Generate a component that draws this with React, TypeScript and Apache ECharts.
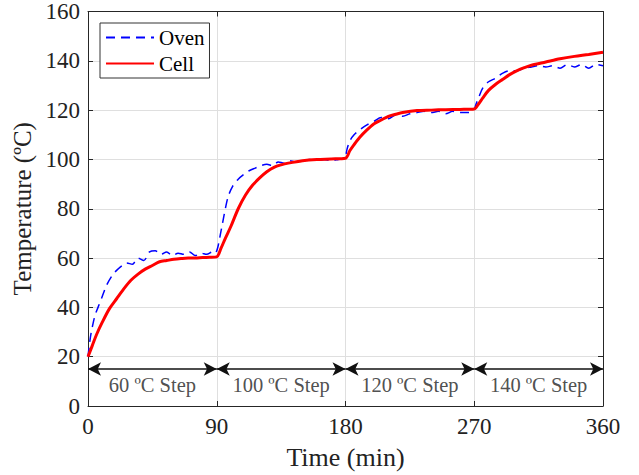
import React, { useEffect, useRef } from "react";
import * as echarts from "echarts";

const ovenTime = [0,1,2,3,5,7,10,13,17,20,24,27,31,35,39,43,47,51,55,59,63,67,71,75,79,83,87,89,90,91,92,94,96,98,101,105,109,113,117,121,125,129,133,137,141,145,150,155,160,165,170,175,179,180,181,183,186,190,195,200,205,210,215,220,225,230,235,240,245,250,255,260,265,269,270,271,273,276,280,285,290,295,300,305,310,315,320,325,330,335,340,345,350,355,360];
const ovenTemp = [20,25,29,32,37,40,44.5,49,53,55,57,58,57.5,60,59,62.5,63,61.5,62.5,61,62,61.5,62.5,61,62,61.5,62.5,62,63,65,68,74,80,85,89,92,94,95.5,96.5,97.5,98,97.5,99,98.5,99.5,99,99.5,100,99.5,100,99.5,100,100.5,101,104,107.5,110,112,114,115.5,117,116.5,118,117.5,118.5,119,119.5,119,119.5,118.5,119.5,119,119,119.5,120,122,125,129,131.5,133,135,136,136,137,137.5,138,137.5,138,137,138.5,137.5,138.5,137,138.5,138];

const cellTime = [0,3,6,10,15,20,25,30,35,40,45,50,55,60,65,70,75,80,85,90,93,96,100,105,110,115,120,125,130,135,140,150,160,170,180,183,186,190,195,200,205,210,215,220,230,240,250,260,270,273,276,280,285,290,295,300,305,310,320,330,340,350,360];
const cellTemp = [20,24.5,29,34,39.5,43.5,47.5,51,53.5,55.5,57,58.5,59,59.5,59.8,60,60,60.2,60.3,60.5,64,68,73,80,85.5,89.5,92.5,95,96.8,97.8,98.5,99.5,100,100.2,100.5,103.5,106,109,112,114.5,116,117.5,118.3,119,119.8,120,120.2,120.3,120.5,122.5,125,128,130.5,132.5,134.5,136,137.2,138.2,139.5,140.8,141.8,142.6,143.5];

const stepStarts = [0, 90, 180, 270];
const stepEnds = [90, 180, 270, 360];
const stepLabels = ["60 ºC Step", "100 ºC Step", "120 ºC Step", "140 ºC Step"];
const arrowLevel = 15;
const stepLabelLevel = 8.5;

const xTicks = [0, 90, 180, 270, 360];
const yMin = 0, yMax = 160, yStep = 20;

const FONT = "Liberation Serif";
const TXT = "#222";

export default function App() {
  const ref = useRef<HTMLDivElement>(null);
  useEffect(() => {
    if (!ref.current) return;
    const chart = echarts.init(ref.current, undefined, { renderer: "svg" });
    const axisLineStyle = { color: "#262626", width: 1 };
    const xCommon = {
      type: "value" as const,
      min: xTicks[0],
      max: xTicks[xTicks.length - 1],
      interval: 90,
      axisLine: { show: true, onZero: false, lineStyle: axisLineStyle },
      axisTick: { show: true, inside: true, length: 5, lineStyle: axisLineStyle },
    };
    const yCommon = {
      type: "value" as const,
      min: yMin,
      max: yMax,
      interval: yStep,
      axisLine: { show: true, onZero: false, lineStyle: axisLineStyle },
      axisTick: { show: true, inside: true, length: 5, lineStyle: axisLineStyle },
    };
    chart.setOption({
      animation: false,
      textStyle: { fontFamily: FONT },
      grid: { left: 88, right: 36, top: 11, bottom: 69, containLabel: false },
      legend: {
        data: ["Oven", "Cell"],
        orient: "vertical",
        left: 100,
        top: 23,
        padding: [4, 5, 4, 5],
        itemGap: 5,
        itemWidth: 48,
        itemHeight: 20,
        itemStyle: { opacity: 0 },
        borderColor: "#333",
        borderWidth: 1,
        backgroundColor: "#fff",
        textStyle: { fontFamily: FONT, fontSize: 21, color: "#000" },
      },
      xAxis: [
        {
          ...xCommon,
          position: "bottom",
          name: "Time (min)",
          nameLocation: "middle",
          nameGap: 38,
          nameTextStyle: { fontFamily: FONT, fontSize: 26, color: TXT },
          axisLabel: { fontFamily: FONT, fontSize: 23, color: TXT, margin: 9 },
          splitLine: { show: true, lineStyle: { color: "#dfdfdf", width: 1 } },
        },
        {
          ...xCommon,
          position: "top",
          axisLabel: { show: false },
          splitLine: { show: false },
        },
      ],
      yAxis: [
        {
          ...yCommon,
          position: "left",
          name: "Temperature (ºC)",
          nameLocation: "middle",
          nameGap: 51,
          nameTextStyle: { fontFamily: FONT, fontSize: 25, color: TXT },
          axisLabel: { fontFamily: FONT, fontSize: 23, color: TXT, margin: 8 },
          splitLine: { show: true, lineStyle: { color: "#dfdfdf", width: 1 } },
        },
        {
          ...yCommon,
          position: "right",
          axisLabel: { show: false },
          splitLine: { show: false },
        },
      ],
      series: [
        {
          name: "Oven",
          type: "line",
          data: ovenTime.map((t, i) => [t, ovenTemp[i]]),
          showSymbol: false,
          symbol: "none",
          smooth: 0.3,
          lineStyle: { color: "#0000ff", width: 1.5, type: [9, 6] },
          itemStyle: { color: "#0000ff" },
          z: 3,
        },
        {
          name: "Cell",
          type: "line",
          data: cellTime.map((t, i) => [t, cellTemp[i]]),
          showSymbol: false,
          symbol: "none",
          smooth: 0.3,
          lineStyle: { color: "#ff0000", width: 3 },
          itemStyle: { color: "#ff0000" },
          z: 4,
          markLine: {
            silent: true,
            symbol: ["arrow", "arrow"],
            symbolSize: [10, 13],
            label: { show: false },
            lineStyle: { color: "#111", width: 1.5, type: "solid" },
            data: stepStarts.map((s, i) => [
              { coord: [s, arrowLevel] },
              { coord: [stepEnds[i], arrowLevel] },
            ]),
          },
        },
        {
          name: "steps",
          type: "scatter",
          symbolSize: 0,
          silent: true,
          data: stepLabels.map((n, i) => ({
            name: n,
            value: [(stepStarts[i] + stepEnds[i]) / 2, stepLabelLevel],
          })),
          label: {
            show: true,
            position: "inside",
            formatter: (p: any) => p.name,
            fontFamily: FONT,
            fontSize: 20.5,
            color: TXT,
          },
        },
      ],
    });
    return () => chart.dispose();
  }, []);
  return <div ref={ref} style={{ width: 639, height: 475, position: "absolute", left: 0, top: 0, background: "#fff" }} />;
}
